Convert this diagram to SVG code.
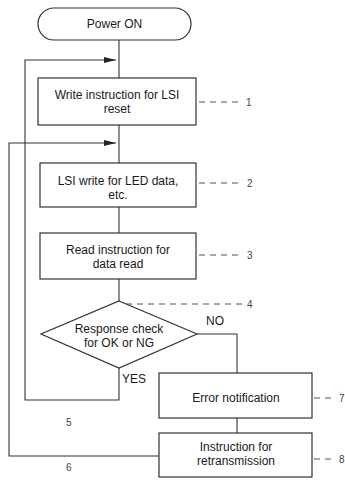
<svg xmlns="http://www.w3.org/2000/svg" width="345" height="481" viewBox="0 0 345 481">
<defs>
<marker id="ah" markerWidth="12" markerHeight="6" refX="12" refY="3" orient="auto" markerUnits="userSpaceOnUse">
<path d="M0,0 L12,3 L0,6 Z" fill="#222"/>
</marker>
<style>
.box{fill:#fff;stroke:#333;stroke-width:1.2}
.t{font-family:"Liberation Sans",Arial,sans-serif;font-size:12px;fill:#1a1a1a;text-anchor:middle}
.n{font-family:"Liberation Sans",Arial,sans-serif;font-size:10px;fill:#444}
.c{fill:none;stroke:#333;stroke-width:1.1}
.d{fill:none;stroke:#555;stroke-width:1;stroke-dasharray:6 5}
</style>
</defs>
<rect width="345" height="481" fill="#fff"/>
<g id="connectors">
<path class="c" d="M119 40 V78"/>
<path class="c" d="M119 125 V163"/>
<path class="c" d="M119 207 V233"/>
<path class="c" d="M119 279 V301"/>
<path class="c" d="M119 368 V400 H25 V60 H116" marker-end="url(#ah)"/>
<path class="c" d="M159 456 H9 V143 H116" marker-end="url(#ah)"/>
<path class="c" d="M197 334 H237 V373"/>
<path class="c" d="M237 418 V433"/>
<path class="d" d="M199 102 H241"/>
<path class="d" d="M199 183 H243"/>
<path class="d" d="M199 255 H243"/>
<path class="d" d="M126 304 H245"/>
<path class="d" d="M314 398 H336"/>
<path class="d" d="M314 459 H336"/>
<text class="t" x="215" y="325">NO</text>
<text class="t" x="134" y="383">YES</text>
<text class="n" x="66" y="426">5</text>
<text class="n" x="66" y="471">6</text>
<text class="n" x="246" y="106">1</text>
<text class="n" x="247" y="187">2</text>
<text class="n" x="247" y="259">3</text>
<text class="n" x="247" y="308">4</text>
<text class="n" x="339" y="402">7</text>
<text class="n" x="339" y="463">8</text>
</g>
<g id="power-on">
<rect class="box" x="38" y="8" width="153" height="32" rx="16"/>
<text class="t" x="114.5" y="28">Power ON</text>
</g>
<g id="step1">
<rect class="box" x="38" y="78" width="158" height="47"/>
<text class="t" x="117" y="99">Write instruction for LSI</text>
<text class="t" x="117" y="113">reset</text>
</g>
<g id="step2">
<rect class="box" x="40" y="163" width="156" height="44"/>
<text class="t" x="118" y="185">LSI write for LED data,</text>
<text class="t" x="118" y="199">etc.</text>
</g>
<g id="step3">
<rect class="box" x="40" y="233" width="156" height="46"/>
<text class="t" x="118" y="254">Read instruction for</text>
<text class="t" x="118" y="268">data read</text>
</g>
<g id="step4">
<polygon class="box" points="119,301 197,334 119,368 41,334"/>
<text class="t" x="119" y="333">Response check</text>
<text class="t" x="119" y="347">for OK or NG</text>
</g>
<g id="step7">
<rect class="box" x="159" y="373" width="153" height="45"/>
<text class="t" x="236" y="402">Error notification</text>
</g>
<g id="step8">
<rect class="box" x="159" y="433" width="153" height="44"/>
<text class="t" x="236" y="451">Instruction for</text>
<text class="t" x="236" y="465">retransmission</text>
</g>
</svg>
